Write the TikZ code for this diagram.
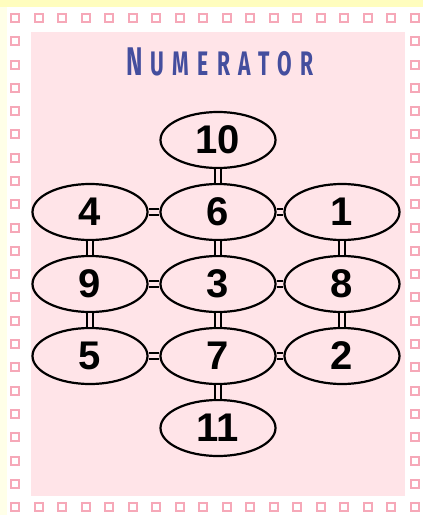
\documentclass[tikz,border=0pt]{standalone}
\usepackage{fontspec}
\setmainfont{Liberation Sans}
\newfontfamily\titlefont[LetterSpace=40]{Fira Sans}
\usetikzlibrary{shapes.geometric, positioning}
\definecolor{bgyellow}{RGB}{255,253,190}
\definecolor{bgpale}{RGB}{255,255,232}
\definecolor{cardpink}{RGB}{255,228,232}
\definecolor{dotpink}{RGB}{246,168,184}
\definecolor{titleblue}{RGB}{68,78,158}
\tikzset{
  numnode/.style={ellipse, draw=black, fill=cardpink, line width=2.2pt,
    minimum width=115pt, minimum height=56pt, inner sep=0pt,
    font=\fontsize{40}{40}\bfseries\selectfont},
  link/.style={draw=black, line width=1.8pt, double=cardpink, double distance=4.5pt},
  dot/.style={rectangle, draw=dotpink, fill=white, line width=2pt,
    minimum size=8pt, inner sep=0pt}
}

\begin{document}
\begin{tikzpicture}[x=1pt, y=-1pt]
  % Background and card
  \useasboundingbox (0,0) rectangle (423,515);
  \fill[white] (0,0) rectangle (423,515);
  \fill[bgyellow] (0,0) rectangle (423,7);
  \fill[bgpale] (0,7) rectangle (7,515);
  \fill[cardpink] (31,32) rectangle (405,496);

  % Dotted border
  \foreach \i in {0,...,17} {
    \node[dot] at ({15+\i*23.53}, 18) {};
    \node[dot] at ({15+\i*23.53}, 507) {};
  }
  \foreach \j in {1,...,20} {
    \node[dot] at (15, {18+\j*23.29}) {};
    \node[dot] at (415, {18+\j*23.29}) {};
  }

  % Title
  \node[text=titleblue, xscale=0.62, transform shape] (title) at (220,62)
    {\titlefont\bfseries{\fontsize{40}{40}\selectfont N}\hspace{13pt}{\fontsize{34}{34}\selectfont UMERATOR}};

  % Number grid
  \node[numnode] (n10) at (218,140) {10};
  \node[numnode] (n4)  at (90,212)  {4};
  \node[numnode] (n6)  at (218,212) {6};
  \node[numnode] (n1)  at (342,212) {1};
  \node[numnode] (n9)  at (90,284)  {9};
  \node[numnode] (n3)  at (218,284) {3};
  \node[numnode] (n8)  at (342,284) {8};
  \node[numnode] (n5)  at (90,356)  {5};
  \node[numnode] (n7)  at (218,356) {7};
  \node[numnode] (n2)  at (342,356) {2};
  \node[numnode] (n11) at (218,428) {11};

  % Links
  \draw[link] (n10) -- (n6);
  \draw[link] (n4) -- (n6);
  \draw[link] (n6) -- (n1);
  \draw[link] (n4) -- (n9);
  \draw[link] (n6) -- (n3);
  \draw[link] (n1) -- (n8);
  \draw[link] (n9) -- (n3);
  \draw[link] (n3) -- (n8);
  \draw[link] (n9) -- (n5);
  \draw[link] (n3) -- (n7);
  \draw[link] (n8) -- (n2);
  \draw[link] (n5) -- (n7);
  \draw[link] (n7) -- (n2);
  \draw[link] (n7) -- (n11);
\end{tikzpicture}
\end{document}
